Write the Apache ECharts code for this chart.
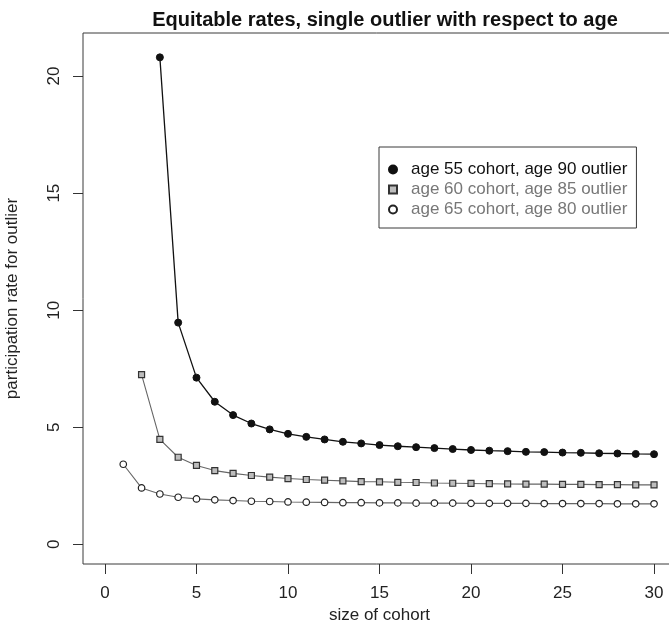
<!DOCTYPE html>
<html>
<head>
<meta charset="utf-8">
<script src="https://cdn.jsdelivr.net/npm/echarts@6/dist/echarts.min.js"></script>
<style>
  html, body { margin: 0; padding: 0; background: #fff; }
  #chart { width: 669px; height: 629px; }
</style>
</head>
<body>
<div id="chart"></div>
<script>
// cohort sizes on the x axis
const cohortSizes = [1, 2, 3, 4, 5, 6, 7, 8, 9, 10, 11, 12, 13, 14, 15,
  16, 17, 18, 19, 20, 21, 22, 23, 24, 25, 26, 27, 28, 29, 30];

// participation rates
const age55Rates = [20.8, 9.47, 7.12, 6.09, 5.52, 5.16, 4.91, 4.72, 4.59, 4.48,
  4.38, 4.31, 4.24, 4.19, 4.15, 4.11, 4.07, 4.03, 4.0, 3.98, 3.95, 3.94, 3.92,
  3.91, 3.89, 3.88, 3.86, 3.85];              // sizes 3..30
const age60Rates = [7.25, 4.48, 3.72, 3.37, 3.15, 3.03, 2.94, 2.87, 2.81, 2.77,
  2.74, 2.71, 2.68, 2.67, 2.65, 2.64, 2.62, 2.61, 2.60, 2.59, 2.58, 2.57, 2.57,
  2.56, 2.56, 2.55, 2.55, 2.54, 2.54];        // sizes 2..30
const age65Rates = [3.42, 2.41, 2.15, 2.01, 1.94, 1.90, 1.87, 1.84, 1.83, 1.81,
  1.80, 1.79, 1.78, 1.78, 1.77, 1.77, 1.76, 1.76, 1.76, 1.75, 1.75, 1.75, 1.75,
  1.74, 1.74, 1.74, 1.74, 1.73, 1.73, 1.73];  // sizes 1..30

const seriesNames = ['age 55 cohort, age 90 outlier',
  'age 60 cohort, age 85 outlier',
  'age 65 cohort, age 80 outlier'];

const xTicks = [0, 5, 10, 15, 20, 25, 30];
const yTicks = [0, 5, 10, 15, 20];

const FONT = '"Liberation Sans", Arial, Helvetica, sans-serif';

function pairs(rates) {
  const start = cohortSizes.length - rates.length;
  return rates.map((v, i) => [cohortSizes[start + i], v]);
}

const chart = echarts.init(document.getElementById('chart'), null, { renderer: 'canvas' });

chart.setOption({
  animation: false,
  textStyle: { fontFamily: FONT },
  title: {
    text: 'Equitable rates, single outlier with respect to age',
    left: 380,
    top: 5,
    textAlign: 'center',
    textStyle: { fontFamily: FONT, fontSize: 20, fontWeight: 'bold', color: '#111' }
  },
  grid: {
    left: 83, right: -7, top: 33, bottom: 65,
    outerBoundsMode: 'none',
    containLabel: false,
    show: true, borderColor: '#3a3a3a', borderWidth: 1
  },
  legend: {
    orient: 'vertical',
    left: 379, top: 147,
    padding: [14, 9, 10, 9],
    itemWidth: 8, itemHeight: 8, itemGap: 3,
    borderColor: '#3a3a3a', borderWidth: 1,
    backgroundColor: '#fff',
    textStyle: { fontFamily: FONT, fontSize: 17, color: '#222', padding: [0, 0, 0, 9] },
    data: [
      { name: seriesNames[0], icon: 'circle', textStyle: { color: '#111' } },
      { name: seriesNames[1], icon: 'rect', textStyle: { color: '#777' } },
      { name: seriesNames[2], icon: 'circle', textStyle: { color: '#777' } }
    ]
  },
  xAxis: {
    type: 'value',
    min: -1.2, max: 31.2,
    name: 'size of cohort',
    nameLocation: 'middle',
    nameGap: 43,
    nameTextStyle: { fontFamily: FONT, fontSize: 17, color: '#222' },
    axisLine: { show: false, onZero: false },
    splitLine: { show: false },
    axisTick: { show: true, length: 10, inside: false, customValues: xTicks,
      lineStyle: { color: '#333', width: 1 } },
    axisLabel: { customValues: xTicks, margin: 21, fontSize: 17, color: '#222',
      fontFamily: FONT }
  },
  yAxis: {
    type: 'value',
    min: -0.84, max: 21.84,
    name: 'participation rate for outlier',
    nameLocation: 'middle',
    nameGap: 62,
    nameTextStyle: { fontFamily: FONT, fontSize: 17, color: '#222' },
    axisLine: { show: false, onZero: false },
    splitLine: { show: false },
    axisTick: { show: true, length: 10, inside: false, customValues: yTicks,
      lineStyle: { color: '#333', width: 1 } },
    axisLabel: { customValues: yTicks, margin: 20, rotate: 90, fontSize: 17,
      color: '#222', fontFamily: FONT }
  },
  series: [
    {
      name: seriesNames[0],
      type: 'line',
      data: pairs(age55Rates),
      symbol: 'circle', symbolSize: 7,
      lineStyle: { color: '#111', width: 1.3 },
      itemStyle: { color: '#111', borderColor: '#111', borderWidth: 1 }
    },
    {
      name: seriesNames[1],
      type: 'line',
      data: pairs(age60Rates),
      symbol: 'rect', symbolSize: 6,
      lineStyle: { color: '#666', width: 1.1 },
      itemStyle: { color: '#bdbdbd', borderColor: '#333', borderWidth: 1.2 }
    },
    {
      name: seriesNames[2],
      type: 'line',
      data: pairs(age65Rates),
      symbol: 'circle', symbolSize: 6.5,
      lineStyle: { color: '#666', width: 1.1 },
      itemStyle: { color: '#fff', borderColor: '#222', borderWidth: 1.2 }
    }
  ]
});
</script>
</body>
</html>
